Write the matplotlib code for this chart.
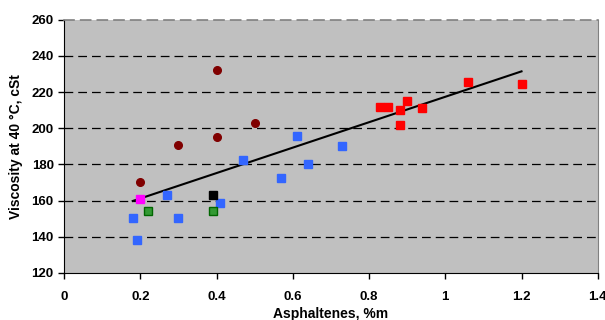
import matplotlib.pyplot as plt

plt.rcParams['font.family'] = ['Liberation Sans', 'DejaVu Sans']

# data
circle_x = [0.20, 0.30, 0.40, 0.40, 0.50]
circle_y = [170.5, 191, 232, 195, 203]

magenta_x = [0.20]
magenta_y = [161]

green_x = [0.22, 0.39]
green_y = [154.5, 154.5]

black_x = [0.39]
black_y = [163]

blue_x = [0.18, 0.19, 0.27, 0.30, 0.41, 0.47, 0.57, 0.61, 0.64, 0.73]
blue_y = [150.5, 138.5, 163, 150.5, 158.5, 182.5, 172.5, 196, 180, 190]

red_x = [0.83, 0.85, 0.88, 0.88, 0.90, 0.94, 1.06, 1.20]
red_y = [212, 212, 210, 202, 215, 211, 225.5, 224.5]

trend_x = [0.18, 1.20]
trend_y = [159.8, 231.5]

x_ticks = [0, 0.2, 0.4, 0.6, 0.8, 1, 1.2, 1.4]
x_labels = ['0', '0.2', '0.4', '0.6', '0.8', '1', '1.2', '1.4']
y_ticks = [120, 140, 160, 180, 200, 220, 240, 260]

fig = plt.figure(figsize=(6.05, 3.2), dpi=100)
ax = fig.add_axes([0.106, 0.147, 0.882, 0.791])
ax.set_facecolor('#C0C0C0')

ax.plot(trend_x, trend_y, color='black', linewidth=1.5, zorder=2)
ax.plot(circle_x, circle_y, 'o', color='#800000', markersize=5.5, zorder=3)
ax.plot(blue_x, blue_y, 's', color='#3366FF', markersize=5.5, zorder=3)
ax.plot(red_x, red_y, 's', color='#FF0000', markersize=6, zorder=3)
ax.plot(green_x, green_y, 's', markerfacecolor='#339933', markeredgecolor='#006600',
        markeredgewidth=1, markersize=5.5, zorder=3)
ax.plot(magenta_x, magenta_y, 's', color='#FF00FF', markersize=5.5, zorder=3)
ax.plot(black_x, black_y, 's', color='black', markersize=5.5, zorder=3)

ax.set_xlim(0, 1.4)
ax.set_ylim(120, 260)
ax.set_xticks(x_ticks)
ax.set_xticklabels(x_labels)
ax.set_yticks(y_ticks)

for y in y_ticks[1:-1]:
    ax.axhline(y, color='black', linestyle=(0, (7, 4)), linewidth=0.9, zorder=1)

ax.spines['top'].set_color('#808080')
ax.spines['top'].set_linestyle((0, (6, 4)))
ax.spines['top'].set_linewidth(1.2)
ax.spines['right'].set_color('#808080')
ax.spines['left'].set_color('black')
ax.spines['bottom'].set_color('black')

ax.tick_params(direction='out', length=4, width=1, labelsize=9.5)
ax.tick_params(axis='x', pad=9)
for lbl in ax.get_xticklabels() + ax.get_yticklabels():
    lbl.set_fontweight('bold')

ax.set_xlabel('Asphaltenes, %m', fontsize=10, fontweight='bold', labelpad=3)
ax.set_ylabel('Viscosity at 40 °C, cSt', fontsize=10, fontweight='bold', labelpad=6)

fig.savefig('out.png', dpi=100)
